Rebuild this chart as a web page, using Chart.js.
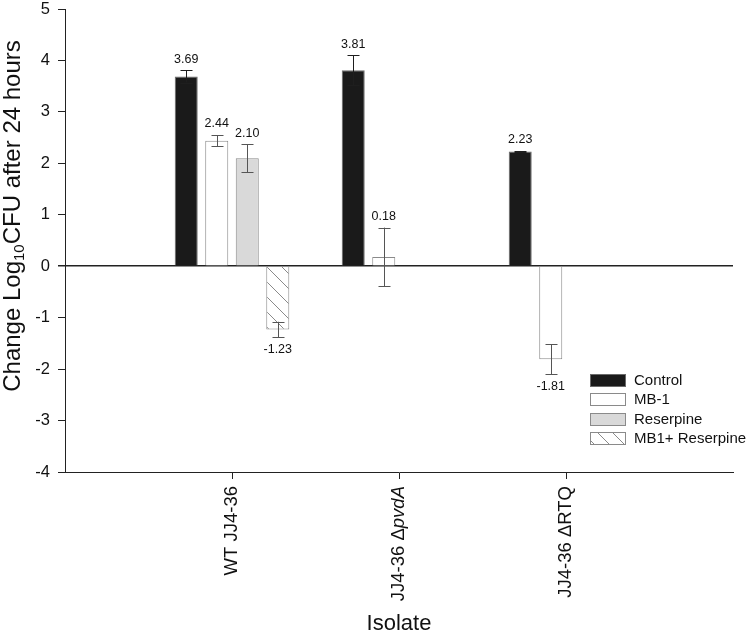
<!DOCTYPE html>
<html>
<head>
<meta charset="utf-8">
<script src="https://cdn.jsdelivr.net/npm/chart.js@4/dist/chart.umd.min.js"></script>
<style>
  html, body { margin: 0; padding: 0; background: #fff; }
</style>
</head>
<body>
<canvas id="chart" width="750" height="635"></canvas>
<script>
// --- Data ---
const isolates = ['WT JJ4-36', 'JJ4-36 \u0394', 'JJ4-36 \u0394RTQ'];
const isolateItalic = ['', 'pvdA', '']; // gene name part shown in italics
const treatments = ['Control', 'MB-1', 'Reserpine', 'MB1+ Reserpine'];

const controlVals = [3.69, 3.81, 2.23];
const controlErr = [0.12, 0.29, 0.01];
const mb1Vals = [2.44, 0.18, -1.81];
const mb1Err = [0.11, 0.57, 0.29];
const reserpineVals = [2.10, null, null];
const reserpineErr = [0.27, null, null];
const comboVals = [-1.23, null, null];
const comboErr = [0.15, null, null];

const yMin = -4, yMax = 5, yStep = 1;

const FONT = "'Liberation Sans', Arial, Helvetica, sans-serif";
const TEXT = '#111';

// empty slot on both sides of the isolates, like the original axis
const pad = arr => [null, ...arr, null];
const labels = ['', ...isolates.map((s, i) => s + isolateItalic[i]), ''];

// --- Hatch pattern for MB1 + Reserpine ---
function makeHatch() {
    const s = 15;
    const c = document.createElement('canvas');
    c.width = s; c.height = s;
    const g = c.getContext('2d');
    g.fillStyle = '#fff';
    g.fillRect(0, 0, s, s);
    g.strokeStyle = '#8a8a8a';
    g.lineWidth = 1;
    g.beginPath();
    g.moveTo(-1, -1); g.lineTo(s + 1, s + 1);
    g.moveTo(s - 1, -1); g.lineTo(s + 1, 1);
    g.moveTo(-1, s - 1); g.lineTo(1, s + 1);
    g.stroke();
    return g.createPattern(c, 'repeat');
}
const hatch = makeHatch();

// --- Error bars + value labels ---
const errorBars = {
    id: 'errorBars',
    afterDatasetsDraw(chart) {
        const ctx = chart.ctx;
        const yScale = chart.scales.y;
        ctx.save();
        chart.data.datasets.forEach((ds, di) => {
            const meta = chart.getDatasetMeta(di);
            meta.data.forEach((bar, i) => {
                const v = ds.data[i];
                if (v === null || v === undefined) return;
                const e = ds.err[i] || 0;
                const x = Math.round(bar.x) + 0.5;
                const yHi = yScale.getPixelForValue(v + e);
                const yLo = yScale.getPixelForValue(v - e);
                ctx.strokeStyle = ds.errColor;
                ctx.lineWidth = 1;
                ctx.beginPath();
                ctx.moveTo(x, yHi); ctx.lineTo(x, yLo);
                ctx.moveTo(x - 6, Math.round(yHi) + 0.5); ctx.lineTo(x + 6, Math.round(yHi) + 0.5);
                ctx.moveTo(x - 6, Math.round(yLo) + 0.5); ctx.lineTo(x + 6, Math.round(yLo) + 0.5);
                ctx.stroke();

                ctx.fillStyle = TEXT;
                ctx.font = '12.5px ' + FONT;
                ctx.textAlign = 'center';
                ctx.textBaseline = 'middle';
                const ty = v >= 0 ? yHi - 11 : yLo + 12;
                ctx.fillText(v.toFixed(2), bar.x, ty);
            });
        });
        ctx.restore();
    }
};

// --- Axis titles, rotated category labels, legend ---
const decorations = {
    id: 'decorations',
    afterDraw(chart) {
        const ctx = chart.ctx;
        const xScale = chart.scales.x;
        ctx.save();
        ctx.fillStyle = TEXT;
        ctx.textBaseline = 'middle';
        ctx.textAlign = 'left';

        // y title with subscript
        const parts = [
            { t: 'Change Log', f: '24px ' + FONT, dy: 0 },
            { t: '10', f: '15px ' + FONT, dy: 7 },
            { t: 'CFU after 24 hours', f: '24px ' + FONT, dy: 0 }
        ];
        let total = 0;
        parts.forEach(p => { ctx.font = p.f; p.w = ctx.measureText(p.t).width; total += p.w; });
        ctx.save();
        ctx.translate(13, 216);
        ctx.rotate(-Math.PI / 2);
        let px = -total / 2;
        parts.forEach(p => { ctx.font = p.f; ctx.fillText(p.t, px, p.dy); px += p.w; });
        ctx.restore();

        // category labels, rotated, ending just below the axis
        isolates.forEach((name, i) => {
            const x = xScale.getPixelForValue(i + 1);
            const normalFont = '18.5px ' + FONT;
            const italicFont = 'italic 18.5px ' + FONT;
            ctx.font = normalFont;
            const w1 = ctx.measureText(name).width;
            ctx.font = italicFont;
            const w2 = isolateItalic[i] ? ctx.measureText(isolateItalic[i]).width : 0;
            ctx.save();
            ctx.translate(x, 486);
            ctx.rotate(-Math.PI / 2);
            ctx.font = normalFont;
            ctx.fillText(name, -(w1 + w2), 0);
            if (w2) {
                ctx.font = italicFont;
                ctx.fillText(isolateItalic[i], -w2, 0);
            }
            ctx.restore();
        });

        // x title
        ctx.font = '22px ' + FONT;
        ctx.textAlign = 'center';
        ctx.fillText('Isolate', (chart.chartArea.left + chart.chartArea.right) / 2, 624);

        // legend
        ctx.textAlign = 'left';
        ctx.font = '15px ' + FONT;
        const legendY = [374, 393, 413, 432];
        chart.data.datasets.forEach((ds, di) => {
            const y = legendY[di];
            ctx.fillStyle = ds.backgroundColor;
            ctx.fillRect(590, y, 35, 12);
            ctx.strokeStyle = ds.borderColor;
            ctx.lineWidth = 1;
            ctx.strokeRect(590.5, y + 0.5, 35, 12);
            ctx.fillStyle = TEXT;
            ctx.fillText(ds.label, 634, y + 6.5);
        });
        ctx.restore();
    }
};

// --- Chart ---
const ctx = document.getElementById('chart').getContext('2d');
new Chart(ctx, {
    type: 'bar',
    data: {
        labels: labels,
        datasets: [
            { label: treatments[0], data: pad(controlVals), err: pad(controlErr), errColor: '#1e1e1e',
              backgroundColor: '#1a1a1a', borderColor: '#6a6a6a', borderWidth: 1 },
            { label: treatments[1], data: pad(mb1Vals), err: pad(mb1Err), errColor: '#555',
              backgroundColor: '#ffffff', borderColor: '#8a8a8a', borderWidth: 1 },
            { label: treatments[2], data: pad(reserpineVals), err: pad(reserpineErr), errColor: '#555',
              backgroundColor: '#d9d9d9', borderColor: '#8a8a8a', borderWidth: 1 },
            { label: treatments[3], data: pad(comboVals), err: pad(comboErr), errColor: '#555',
              backgroundColor: hatch, borderColor: '#8a8a8a', borderWidth: 1 }
        ]
    },
    options: {
        responsive: false,
        animation: false,
        devicePixelRatio: 1,
        layout: { padding: { left: 0, top: 9, right: 17, bottom: 0 } },
        datasets: { bar: { categoryPercentage: 0.731, barPercentage: 0.754 } },
        plugins: {
            legend: { display: false },
            tooltip: { enabled: false }
        },
        scales: {
            x: {
                offset: false,
                ticks: { display: false },
                grid: {
                    offset: false,
                    drawOnChartArea: false,
                    drawTicks: true,
                    tickLength: 7,
                    color: c => (c.index === 0 || c.index === labels.length - 1) ? 'transparent' : '#222',
                    tickColor: c => (c.index === 0 || c.index === labels.length - 1) ? 'transparent' : '#222'
                },
                border: { display: true, color: '#222', width: 1 },
                afterFit: s => { s.height = 163; }
            },
            y: {
                min: yMin,
                max: yMax,
                ticks: {
                    stepSize: yStep,
                    color: TEXT,
                    padding: 8,
                    font: { size: 16.5, family: FONT }
                },
                grid: {
                    drawTicks: true,
                    tickLength: 7,
                    color: c => (c.tick && c.tick.value === 0) ? '#222' : 'transparent',
                    lineWidth: c => (c.tick && c.tick.value === 0) ? 1.5 : 1,
                    tickColor: '#222'
                },
                border: { display: true, color: '#222', width: 1 },
                afterFit: s => { s.width = 65; s.paddingTop = 0; s.paddingBottom = 0; }
            }
        }
    },
    plugins: [errorBars, decorations]
});
</script>
</body>
</html>
